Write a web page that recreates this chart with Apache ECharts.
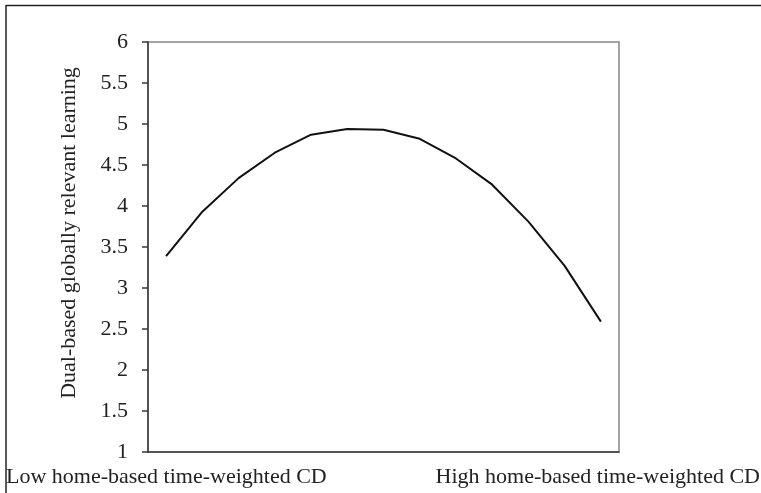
<!DOCTYPE html>
<html>
<head>
<meta charset="utf-8">
<script src="https://cdn.jsdelivr.net/npm/echarts@6/dist/echarts.min.js"></script>
<style>html,body{margin:0;padding:0;background:#fff}#c{width:761px;height:493px}</style>
</head>
<body>
<div id="c"></div>
<script>
const categories = ['1','2','3','4','5','6','7','8','9','10','11','12','13'];
const values = [3.39, 3.93, 4.34, 4.65, 4.87, 4.94, 4.93, 4.82, 4.58, 4.26, 3.81, 3.27, 2.59];
const yTitle = 'Dual-based globally relevant learning';
const lowLabel = 'Low home-based time-weighted CD';
const highLabel = 'High home-based time-weighted CD';
const yMin = 1, yMax = 6, yStep = 0.5;

const font = 'Liberation Serif';
const chart = echarts.init(document.getElementById('c'), null, {renderer: 'canvas'});
chart.setOption({
  animation: false,
  backgroundColor: '#fff',
  grid: {left: 148, top: 42, width: 471, height: 410, show: true, borderColor: '#878787', borderWidth: 1.5, backgroundColor: 'transparent'},
  xAxis: {
    type: 'category', data: categories, boundaryGap: true,
    axisLine: {lineStyle: {color: '#3a3a3a', width: 1.5}},
    axisTick: {show: false}, axisLabel: {show: false}, splitLine: {show: false}
  },
  yAxis: {
    type: 'value', min: yMin, max: yMax, interval: yStep,
    axisLine: {show: true, lineStyle: {color: '#3a3a3a', width: 1.5}},
    axisTick: {show: true, inside: false, length: 6, lineStyle: {color: '#3a3a3a', width: 1.5}},
    axisLabel: {margin: 20, color: '#222', fontFamily: font, fontSize: 22},
    splitLine: {show: false}
  },
  series: [{
    type: 'line', data: values, symbol: 'none', smooth: false,
    lineStyle: {color: '#111', width: 2}
  }],
  graphic: [
    {type: 'line', shape: {x1: 6, y1: 5.5, x2: 761, y2: 5.5}, style: {stroke: '#222', lineWidth: 1.5}},
    {type: 'line', shape: {x1: 6, y1: 5, x2: 6, y2: 493}, style: {stroke: '#222', lineWidth: 1.5}},
    {type: 'text', x: 69, y: 233, rotation: Math.PI / 2,
      style: {text: yTitle, fontFamily: font, fontSize: 22, fill: '#222', align: 'center', verticalAlign: 'middle'}},
    {type: 'text', x: 6, y: 477,
      style: {text: lowLabel, fontFamily: font, fontSize: 22, fill: '#222', align: 'left', verticalAlign: 'middle'}},
    {type: 'text', x: 760, y: 477,
      style: {text: highLabel, fontFamily: font, fontSize: 22, fill: '#222', align: 'right', verticalAlign: 'middle'}}
  ]
});
</script>
</body>
</html>
